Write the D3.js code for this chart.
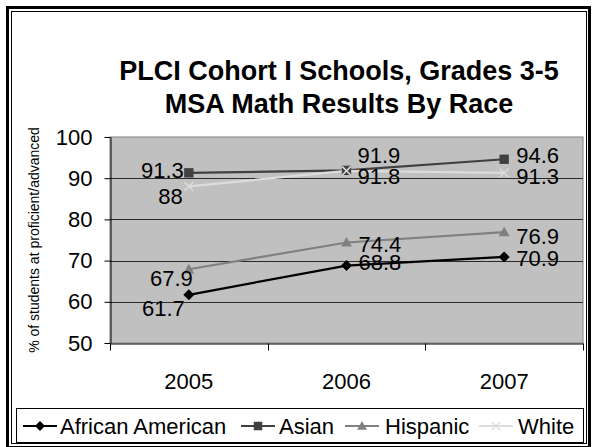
<!DOCTYPE html>
<html>
<head>
<meta charset="utf-8">
<script src="https://cdn.jsdelivr.net/npm/d3@7"></script>
<style>
  html, body { margin: 0; padding: 0; background: #fff; }
  svg { display: block; }
  text { font-family: Arial, "Liberation Sans", sans-serif; }
</style>
</head>
<body>
<svg id="chart" width="592" height="447"></svg>
<script>
// ---- data ----
const years = ["2005", "2006", "2007"];
const seriesNames = ["African American", "Asian", "Hispanic", "White"];
const africanAmerican = [61.7, 68.8, 70.9];
const asian = [91.3, 91.9, 94.6];
const hispanic = [67.9, 74.4, 76.9];
const white = [88, 91.8, 91.3];
const yTicks = [50, 60, 70, 80, 90, 100];
const titleLines = ["PLCI Cohort I Schools, Grades 3-5", "MSA Math Results By Race"];
const yAxisTitle = "% of students at proficient/advanced";

// ---- styles (not data) ----
const seriesValues = [africanAmerican, asian, hispanic, white];
const colors = ["#000000", "#404040", "#808080", "#dcdcdc"];
const markers = ["diamond", "square", "triangle", "x"];
// label offsets per series per year: [anchor, dx, dy(center)]
const labelPos = [
  [["end", -4, 13], ["start", 12, -4], ["start", 12, 1]],
  [["end", -5, -3], ["start", 11, -15], ["start", 12, -4]],
  [["end", 4, 9], ["start", 12, 1.5], ["start", 12, 4]],
  [["end", -6, 10], ["start", 11, 5], ["start", 12, 3]]
];

const svg = d3.select("#chart");

// outer double border
svg.append("rect").attr("x", 7.5).attr("y", 7.5).attr("width", 582).attr("height", 440)
  .attr("fill", "none").attr("stroke", "#000").attr("stroke-width", 3);
svg.append("rect").attr("x", 11.5).attr("y", 11.5).attr("width", 575).attr("height", 432)
  .attr("fill", "none").attr("stroke", "#000").attr("stroke-width", 1);

// title
const title = svg.append("text").attr("text-anchor", "middle")
  .attr("font-weight", "bold").attr("font-size", 27).attr("fill", "#000");
titleLines.forEach((t, i) => {
  title.append("tspan").attr("x", 339).attr("y", 80 + i * 33).text(t);
});

// plot area
const plot = { left: 110, right: 583, top: 137, bottom: 343 };
const x = d3.scaleBand().domain(years).range([plot.left, plot.right]).paddingInner(0).paddingOuter(0);
const y = d3.scaleLinear().domain([50, 100]).range([plot.bottom, plot.top]);

svg.append("rect").attr("x", plot.left).attr("y", plot.top)
  .attr("width", plot.right - plot.left).attr("height", plot.bottom - plot.top)
  .attr("fill", "#c0c0c0").attr("stroke", "#808080").attr("stroke-width", 1);

// gridlines
svg.append("g").selectAll("line").data(yTicks.filter(d => d > 50 && d < 100)).join("line")
  .attr("x1", plot.left).attr("x2", plot.right)
  .attr("y1", d => Math.round(y(d)) + 0.5).attr("y2", d => Math.round(y(d)) + 0.5)
  .attr("stroke", "#2a2a2a").attr("stroke-width", 1);

// y axis
const yAxis = d3.axisLeft(y).tickValues(yTicks).tickSize(6).tickPadding(12).tickSizeOuter(0);
const gy = svg.append("g").attr("transform", `translate(${plot.left + 0.5},0)`).call(yAxis);
gy.select(".domain").attr("stroke", "#000");
gy.selectAll(".tick line").attr("stroke", "#000");
gy.selectAll(".tick text").attr("font-size", 22).attr("font-family", "Arial, 'Liberation Sans', sans-serif").attr("fill", "#000");

// x axis
const xAxis = d3.axisBottom(x).tickSize(0).tickPadding(30);
const gx = svg.append("g").attr("transform", `translate(0,${plot.bottom + 0.5})`).call(xAxis);
gx.select(".domain").attr("stroke", "#000");
gx.selectAll(".tick text").attr("font-size", 22).attr("font-family", "Arial, 'Liberation Sans', sans-serif").attr("fill", "#000");
// category boundary tick marks
const boundaries = years.map(d => x(d)).concat([x(years[years.length - 1]) + x.bandwidth()]);
gx.selectAll("line.bt").data(boundaries).join("line").attr("class", "bt")
  .attr("x1", d => Math.round(d) + 0.5).attr("x2", d => Math.round(d) + 0.5)
  .attr("y1", 0).attr("y2", 7).attr("stroke", "#000");

// y axis title
svg.append("text").attr("transform", `translate(39,${(plot.top + plot.bottom) / 2}) rotate(-90)`)
  .attr("text-anchor", "middle").attr("font-size", 14).attr("fill", "#000").text(yAxisTitle);

// marker drawing
function drawMarker(g, type, cx, cy, color, s) {
  if (type === "diamond") {
    g.append("path").attr("d", `M${cx},${cy - s}L${cx + s},${cy}L${cx},${cy + s}L${cx - s},${cy}Z`).attr("fill", color);
  } else if (type === "square") {
    g.append("rect").attr("x", cx - s * 0.85).attr("y", cy - s * 0.85).attr("width", s * 1.7).attr("height", s * 1.7).attr("fill", color);
  } else if (type === "triangle") {
    g.append("path").attr("d", `M${cx},${cy - s}L${cx + s},${cy + s * 0.75}L${cx - s},${cy + s * 0.75}Z`).attr("fill", color);
  } else if (type === "x") {
    g.append("path").attr("d", `M${cx - s * 0.8},${cy - s * 0.8}L${cx + s * 0.8},${cy + s * 0.8}M${cx + s * 0.8},${cy - s * 0.8}L${cx - s * 0.8},${cy + s * 0.8}`)
      .attr("stroke", color).attr("stroke-width", 1.5).attr("fill", "none");
  }
}

const cxOf = d => x(d) + x.bandwidth() / 2;
const line = d3.line().x((v, i) => cxOf(years[i])).y(v => y(v));

const seriesG = svg.append("g");
seriesValues.forEach((vals, si) => {
  seriesG.append("path").attr("d", line(vals)).attr("fill", "none")
    .attr("stroke", colors[si]).attr("stroke-width", 2.2);
});
seriesValues.forEach((vals, si) => {
  vals.forEach((v, i) => drawMarker(seriesG, markers[si], cxOf(years[i]), y(v), colors[si], 5.5));
});

// data labels
const labelsG = svg.append("g");
seriesValues.forEach((vals, si) => {
  vals.forEach((v, i) => {
    const [anchor, dx, dy] = labelPos[si][i];
    labelsG.append("text").attr("x", cxOf(years[i]) + dx).attr("y", y(v) + dy + 8)
      .attr("text-anchor", anchor).attr("font-size", 22).attr("fill", "#000").text(v);
  });
});

// legend
const legend = svg.append("g");
legend.append("rect").attr("x", 16.5).attr("y", 408.5).attr("width", 567).attr("height", 34)
  .attr("fill", "#fff").attr("stroke", "#000").attr("stroke-width", 1);
const legendItems = [
  { lx: 23, tx: 60 }, { lx: 241, tx: 279 }, { lx: 345, tx: 385 }, { lx: 479, tx: 518 }
];
seriesNames.forEach((name, si) => {
  const it = legendItems[si];
  const ly = 426;
  legend.append("line").attr("x1", it.lx).attr("x2", it.lx + 34).attr("y1", ly).attr("y2", ly)
    .attr("stroke", colors[si]).attr("stroke-width", 2.2);
  drawMarker(legend, markers[si], it.lx + 17, ly, colors[si], 5);
  legend.append("text").attr("x", it.tx).attr("y", ly + 8).attr("font-size", 22).attr("fill", "#000").text(name);
});
</script>
</body>
</html>
